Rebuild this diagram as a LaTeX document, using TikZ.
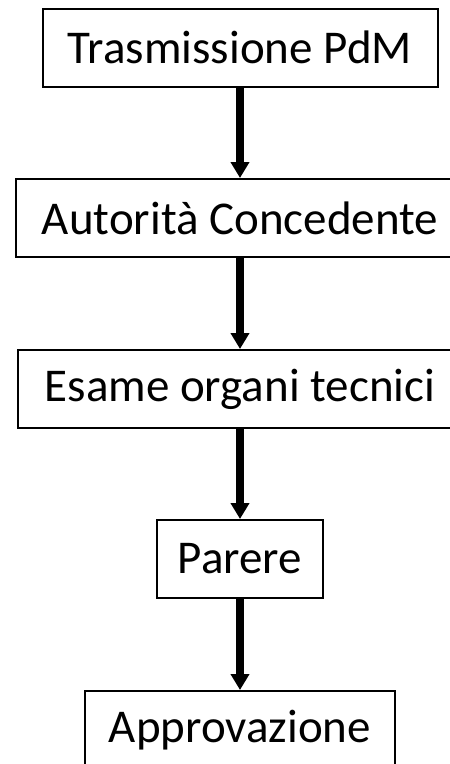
\documentclass[tikz,border=0pt]{standalone}
\usepackage{fontspec}
\setmainfont{Carlito}
\usetikzlibrary{arrows.meta}

\tikzset{
    stepbox/.style={draw,line width=2pt,minimum height=78pt,inner sep=0pt,
        font=\fontsize{47}{56}\selectfont},
    flow/.style={line width=8pt,-{Triangle[width=18pt,length=16pt]}}
}

\begin{document}
\begin{tikzpicture}[x=1pt,y=-1pt]
    \clip (0,0) rectangle (450,764);
    \node[stepbox,minimum width=395pt] (trasm) at (240,47.5) {Trasmissione PdM};
    \node[stepbox,minimum width=448pt] (autor) at (240,218) {Autorità Concedente};
    \node[stepbox,minimum width=444pt] (esame) at (240,389) {Esame organi tecnici};
    \node[stepbox,minimum width=166pt] (parere) at (240,559) {Parere};
    \node[stepbox,minimum width=310pt] (approv) at (240,730) {Approvazione};
    \draw[flow] (trasm) -- (autor);
    \draw[flow] (autor) -- (esame);
    \draw[flow] (esame) -- (parere);
    \draw[flow] (parere) -- (approv);
\end{tikzpicture}
\end{document}
